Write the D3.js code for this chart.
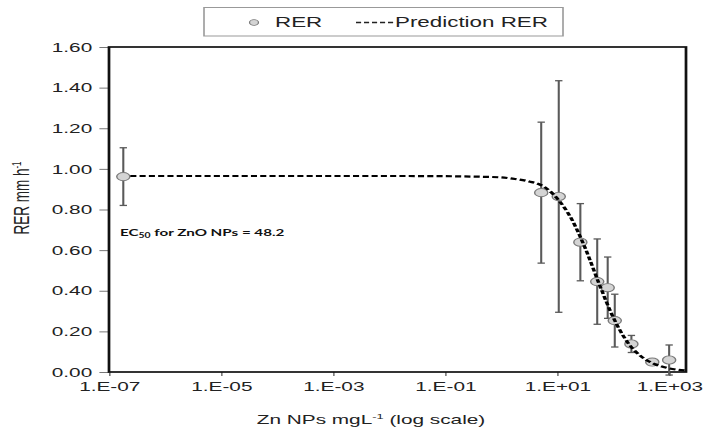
<!DOCTYPE html>
<html>
<head>
<meta charset="utf-8">
<script src="https://cdn.jsdelivr.net/npm/d3@7"></script>
<style>
  body { margin: 0; background: #fff; }
  svg { display: block; }
</style>
</head>
<body>
<div id="grafica"></div>
<script>
// ---- datos ----
// concentración de Zn NPs (mg/L) de cada punto medido
const concentracion = [1.8e-7, 5.2, 10.7, 26, 52, 80, 107, 212, 500, 1000];
// RER medido (mm/h)
const rer = [0.962, 0.883, 0.864, 0.639, 0.445, 0.415, 0.253, 0.138, 0.049, 0.059];
// desviación (barras de error, simétricas)
const desviacion = [0.142, 0.347, 0.570, 0.190, 0.210, 0.151, 0.130, 0.042, 0.0, 0.074];

// curva de predicción leída sobre la línea discontinua (empieza al borde del primer punto)
const prediccionConc = [2.4e-7, 1e-2, 1e-1, 0.316, 1, 1.78, 3.16, 5.62, 10, 17.8, 31.6, 56.2, 100, 178, 316, 562, 1000, 2000];
const prediccionRer = [0.965, 0.965, 0.964, 0.962, 0.958, 0.950, 0.938, 0.915, 0.855, 0.757, 0.611, 0.434, 0.270, 0.149, 0.077, 0.038, 0.018, 0.007];

// etiquetas de los ejes
const ticksX = [1e-7, 1e-5, 1e-3, 1e-1, 1e1, 1e3];
const etiquetasX = ["1.E-07", "1.E-05", "1.E-03", "1.E-01", "1.E+01", "1.E+03"];
const ticksY = [0, 0.2, 0.4, 0.6, 0.8, 1.0, 1.2, 1.4, 1.6];

// ---- lienzo ----
// la imagen original está estirada en horizontal, así que se usa un viewBox
// más estrecho y se deja que el navegador lo estire
const ancho = 703, alto = 434;
const SX = 1.6;
const anchoInt = ancho / SX;

const svg = d3.select("#grafica").append("svg")
  .attr("width", ancho)
  .attr("height", alto)
  .attr("viewBox", `0 0 ${anchoInt} ${alto}`)
  .attr("preserveAspectRatio", "none")
  .style("font-family", "'Liberation Sans', Arial, sans-serif");

const izq = 109 / SX, der = 686 / SX, arriba = 47, abajo = 372;

const x = d3.scaleLog().domain([1e-7, 2e3]).range([izq, der]);
const y = d3.scaleLinear().domain([0, 1.6]).range([abajo, arriba]);

// ---- eje Y ----
const ejeY = svg.append("g")
  .attr("transform", `translate(${izq},0)`)
  .call(d3.axisLeft(y).tickValues(ticksY).tickFormat(d3.format(".2f")).tickSize(6).tickPadding(4.5));
ejeY.select(".domain").remove();
ejeY.selectAll(".tick line").attr("stroke", "#777").attr("stroke-width", 1);
ejeY.selectAll(".tick text").attr("fill", "#222").style("font-size", "13px");

// ---- eje X ----
const ejeX = svg.append("g")
  .attr("transform", `translate(0,${abajo})`)
  .call(d3.axisBottom(x).tickValues(ticksX).tickFormat((d, i) => etiquetasX[i]).tickSize(4).tickPadding(6));
ejeX.select(".domain").remove();
ejeX.selectAll(".tick line").attr("stroke", "#777").attr("stroke-width", 1);
ejeX.selectAll(".tick text").attr("fill", "#222").style("font-size", "13px");

// ---- marco ----
svg.append("rect")
  .attr("x", izq).attr("y", arriba)
  .attr("width", der - izq).attr("height", abajo - arriba)
  .attr("fill", "none").attr("stroke", "#111").attr("stroke-width", 1.7);

// ---- barras de error ----
const puntos = concentracion.map((c, i) => ({ c, v: rer[i], sd: desviacion[i] }));
const conError = puntos.filter(d => d.sd > 0);
const gErr = svg.append("g").attr("stroke", "#5a5a5a").attr("stroke-width", 1.3);
gErr.selectAll("line.vert").data(conError).enter().append("line")
  .attr("x1", d => x(d.c)).attr("x2", d => x(d.c))
  .attr("y1", d => y(d.v + d.sd)).attr("y2", d => y(d.v - d.sd));
gErr.selectAll("line.sup").data(conError).enter().append("line")
  .attr("x1", d => x(d.c) - 2.3).attr("x2", d => x(d.c) + 2.3)
  .attr("y1", d => y(d.v + d.sd)).attr("y2", d => y(d.v + d.sd));
gErr.selectAll("line.inf").data(conError).enter().append("line")
  .attr("x1", d => x(d.c) - 2.3).attr("x2", d => x(d.c) + 2.3)
  .attr("y1", d => y(d.v - d.sd)).attr("y2", d => y(d.v - d.sd));

// ---- puntos ----
svg.append("g").selectAll("circle").data(puntos).enter().append("circle")
  .attr("cx", d => x(d.c)).attr("cy", d => y(d.v)).attr("r", 4.1)
  .attr("fill", "#d4d4d4").attr("stroke", "#7a7a7a").attr("stroke-width", 0.9);

// ---- curva de predicción ----
const linea = d3.line()
  .x((d, i) => x(prediccionConc[i]))
  .y(d => y(d))
  .curve(d3.curveMonotoneX);
svg.append("path")
  .datum(prediccionRer)
  .attr("d", linea)
  .attr("fill", "none").attr("stroke", "#000")
  .attr("stroke-width", 2.2).attr("stroke-dasharray", "3.8,2");

// ---- anotación EC50 ----
const nota = svg.append("text")
  .attr("x", 120 / SX).attr("y", 236)
  .style("font-family", "Lato, 'Open Sans', sans-serif")
  .style("font-weight", "700").style("font-size", "9.5px").attr("fill", "#111");
nota.append("tspan").text("EC");
nota.append("tspan").attr("dy", 2).style("font-size", "6.5px").text("50");
nota.append("tspan").attr("dy", -2).text(" for ZnO NPs = 48.2");

// ---- títulos ----
const tituloX = svg.append("text")
  .attr("x", 371 / SX).attr("y", 424)
  .attr("text-anchor", "middle").style("font-size", "13px").attr("fill", "#222");
tituloX.append("tspan").text("Zn NPs mgL");
tituloX.append("tspan").attr("dy", -5).style("font-size", "8px").text("-1");
tituloX.append("tspan").attr("dy", 5).text(" (log scale)");

const tituloY = svg.append("text")
  .attr("transform", `translate(${29 / SX},198) rotate(-90)`)
  .attr("text-anchor", "middle").style("font-size", "13.5px").attr("fill", "#222");
tituloY.append("tspan").text("RER mm h");
tituloY.append("tspan").attr("dy", -5).style("font-size", "8px").text("-1");

// ---- leyenda ----
const leyenda = svg.append("g");
leyenda.append("rect")
  .attr("x", 204 / SX).attr("y", 7.5)
  .attr("width", (563 - 204) / SX).attr("height", 28.5)
  .attr("fill", "#fff").attr("stroke", "#999").attr("stroke-width", 1);
leyenda.append("circle")
  .attr("cx", 254 / SX).attr("cy", 22.5).attr("r", 2.8)
  .attr("fill", "#d4d4d4").attr("stroke", "#7a7a7a").attr("stroke-width", 0.8);
leyenda.append("text")
  .attr("x", 275 / SX).attr("y", 27.5)
  .style("font-size", "14px").attr("fill", "#222").text("RER");
leyenda.append("line")
  .attr("x1", 356 / SX).attr("x2", 394 / SX).attr("y1", 22.5).attr("y2", 22.5)
  .attr("stroke", "#222").attr("stroke-width", 1.6).attr("stroke-dasharray", "3.2,1.8");
leyenda.append("text")
  .attr("x", 395 / SX).attr("y", 27.5)
  .style("font-size", "14px").attr("fill", "#222").text("Prediction RER");
</script>
</body>
</html>
